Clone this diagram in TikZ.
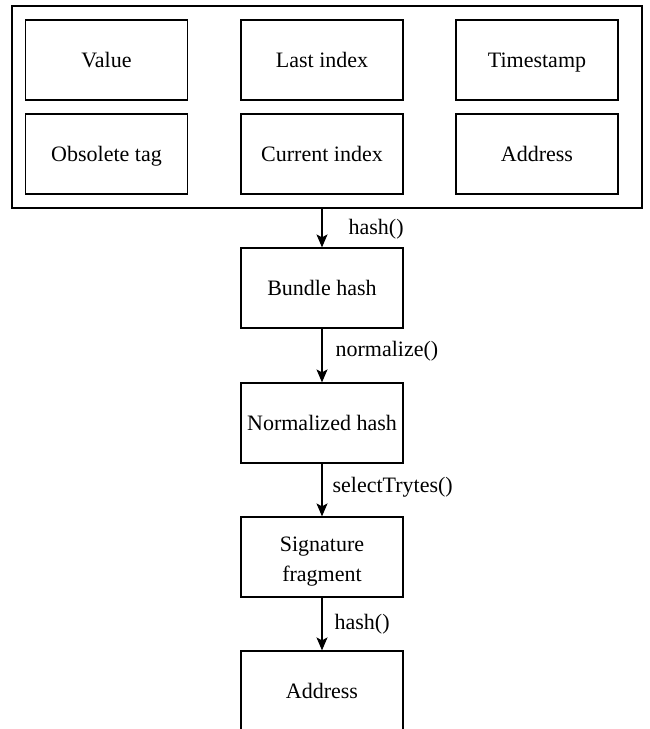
\documentclass[tikz,border=0pt]{standalone}
\usepackage{fontspec}
\setmainfont{Liberation Serif}
\usetikzlibrary{arrows.meta}
\begin{document}
\begin{tikzpicture}[x=1pt,y=-1pt,
  line width=1.2pt,
  field/.style={draw, rectangle, minimum width=162pt, minimum height=80pt, inner sep=0pt,
    font=\fontsize{22}{30}\selectfont, align=center},
  oneline/.style={field, text height=17pt, text depth=3pt},
  flow/.style={-{Stealth[length=13pt,width=11pt,inset=3pt]}},
  fn/.style={anchor=west, inner sep=0pt, font=\fontsize{22}{29}\selectfont}]
  \useasboundingbox (0,0) rectangle (649,729);
  \clip (0,0) rectangle (649,729);
  % transaction fields
  \node[draw, rectangle, minimum width=630pt, minimum height=202pt, inner sep=0pt] (tx) at (327,107) {};
  \node[oneline] (value) at (106.5,60) {Value};
  \node[oneline] (obs) at (106.5,154) {Obsolete tag};
  \node[oneline] (last) at (322,60) {Last index};
  \node[oneline] (cur) at (322,154) {Current index};
  \node[oneline] (ts) at (537,60) {Timestamp};
  \node[oneline] (addr) at (537,154) {Address};
  % signing pipeline
  \node[oneline] (bundle) at (322,288) {Bundle hash};
  \node[oneline] (norm) at (322,423) {Normalized hash};
  \node[field] (sig) at (322,557) {\rule{0pt}{23pt}Signature\\fragment};
  \node[oneline] (out) at (322,691) {Address};
  \draw[flow] (bundle |- tx.south) -- (bundle.north);
  \draw[flow] (bundle.south) -- (norm.north);
  \draw[flow] (norm.south) -- (sig.north);
  \draw[flow] (sig.south) -- (out.north);
  \node[fn] (l1) at (348,229) {hash()};
  \node[fn] (l2) at (335,351) {normalize()};
  \node[fn] (l3) at (332,487) {selectTrytes()};
  \node[fn] (l4) at (334,624) {hash()};
\end{tikzpicture}
\end{document}
